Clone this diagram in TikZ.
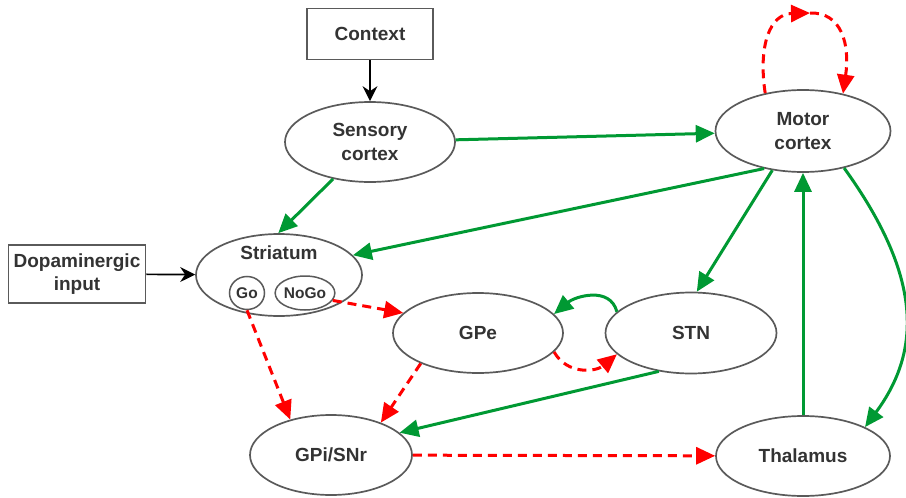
\documentclass[tikz,border=0pt]{standalone}
\usepackage{fontspec}
\setmainfont{Liberation Sans}
\usetikzlibrary{arrows.meta,shapes.geometric}
\definecolor{outl}{HTML}{5A5A5A}
\definecolor{txt}{HTML}{333333}
\definecolor{exc}{HTML}{009933}
\definecolor{inh}{HTML}{FF0000}
\tikzset{
  region/.style={ellipse,draw=outl,line width=1.7pt,inner sep=0pt,
    font=\fontsize{19}{23.5}\selectfont\bfseries,text=txt,align=center},
  subregion/.style={ellipse,draw=outl,line width=1.5pt,inner sep=0pt,
    font=\fontsize{15.5}{18}\selectfont\bfseries,text=txt},
  inbox/.style={rectangle,draw=outl,line width=1.9pt,inner sep=0pt,
    font=\fontsize{19}{23.5}\selectfont\bfseries,text=txt,align=center},
  plain/.style={font=\fontsize{19}{23.5}\selectfont\bfseries,text=txt},
  drive/.style={draw=black,line width=1.7pt,-{Stealth[length=15pt,width=15pt,inset=5pt]}},
  excite/.style={draw=exc,line width=3pt,-{Triangle[length=19pt,width=17pt]}},
  inhibit/.style={draw=inh,line width=3pt,dash pattern=on 9pt off 6pt,-{Triangle[length=19pt,width=17pt]}},
}
\begin{document}
\begin{tikzpicture}[x=1pt,y=-1pt]
\useasboundingbox (0,0) rectangle (906,498);

% input boxes
\node[inbox,minimum width=126pt,minimum height=51pt] (ctx) at (370,34) {Context};
\node[inbox,minimum width=137pt,minimum height=58pt] (dopa) at (77,274) {Dopaminergic\\input};

% cortical and basal ganglia regions
\node[region,minimum width=170pt,minimum height=80pt] (sens) at (370,142) {Sensory\\cortex};
\node[region,minimum width=175pt,minimum height=82pt] (motor) at (803,131) {Motor\\cortex};
\node[region,minimum width=166pt,minimum height=82pt] (str) at (279,275) {};
\node[plain] (strlabel) at (279,253) {Striatum};
\node[subregion,minimum width=35pt,minimum height=33pt] (go) at (247,293) {Go};
\node[subregion,minimum width=53pt,minimum height=34pt] (nogo) at (305,293) {NoGo};
\node[region,minimum width=170pt,minimum height=80pt] (gpe) at (478,333) {GPe};
\node[region,minimum width=171pt,minimum height=81pt] (stn) at (691,333) {STN};
\node[region,minimum width=162pt,minimum height=80pt] (gpi) at (331,455) {GPi/SNr};
\node[region,minimum width=174pt,minimum height=80pt] (thal) at (803,456) {Thalamus};

% external inputs
\draw[drive] (ctx) -- (sens);
\draw[drive] (dopa) -- (str);

% excitatory projections
\draw[excite] (sens) -- (motor);
\draw[excite] (sens.225) -- (str.91);
\draw[excite] (motor.224) -- (str.15);
\draw[excite] (motor.232) -- (stn.82);
\draw[excite] (motor.-42) .. controls (922,276) and (922,350) .. (thal.25);
\draw[excite] (thal.north) -- (motor.south);
\draw[excite] (stn.230) -- (gpi.18);
\draw[excite] (stn.164) to[out=105,in=40,looseness=1.1] (gpe.14);

% inhibitory projections
\draw[inhibit] (gpe.-14) to[out=-60,in=-140,looseness=1.1] (stn.196);
\draw[inhibit] (nogo.-15) -- (gpe.165);
\draw[inhibit] (go.south) -- (gpi.139);
\draw[inhibit] (gpe.208) -- (gpi.33);
\draw[inhibit] (gpi) -- (thal);

% recurrent motor cortex loop
\coordinate (looptop) at (810,13);
\draw[inhibit] (motor.135) .. controls (758,45) and (770,14) .. (looptop);
\draw[inhibit] (looptop) .. controls (842,12) and (850,45) .. (motor.43);
\end{tikzpicture}
\end{document}
